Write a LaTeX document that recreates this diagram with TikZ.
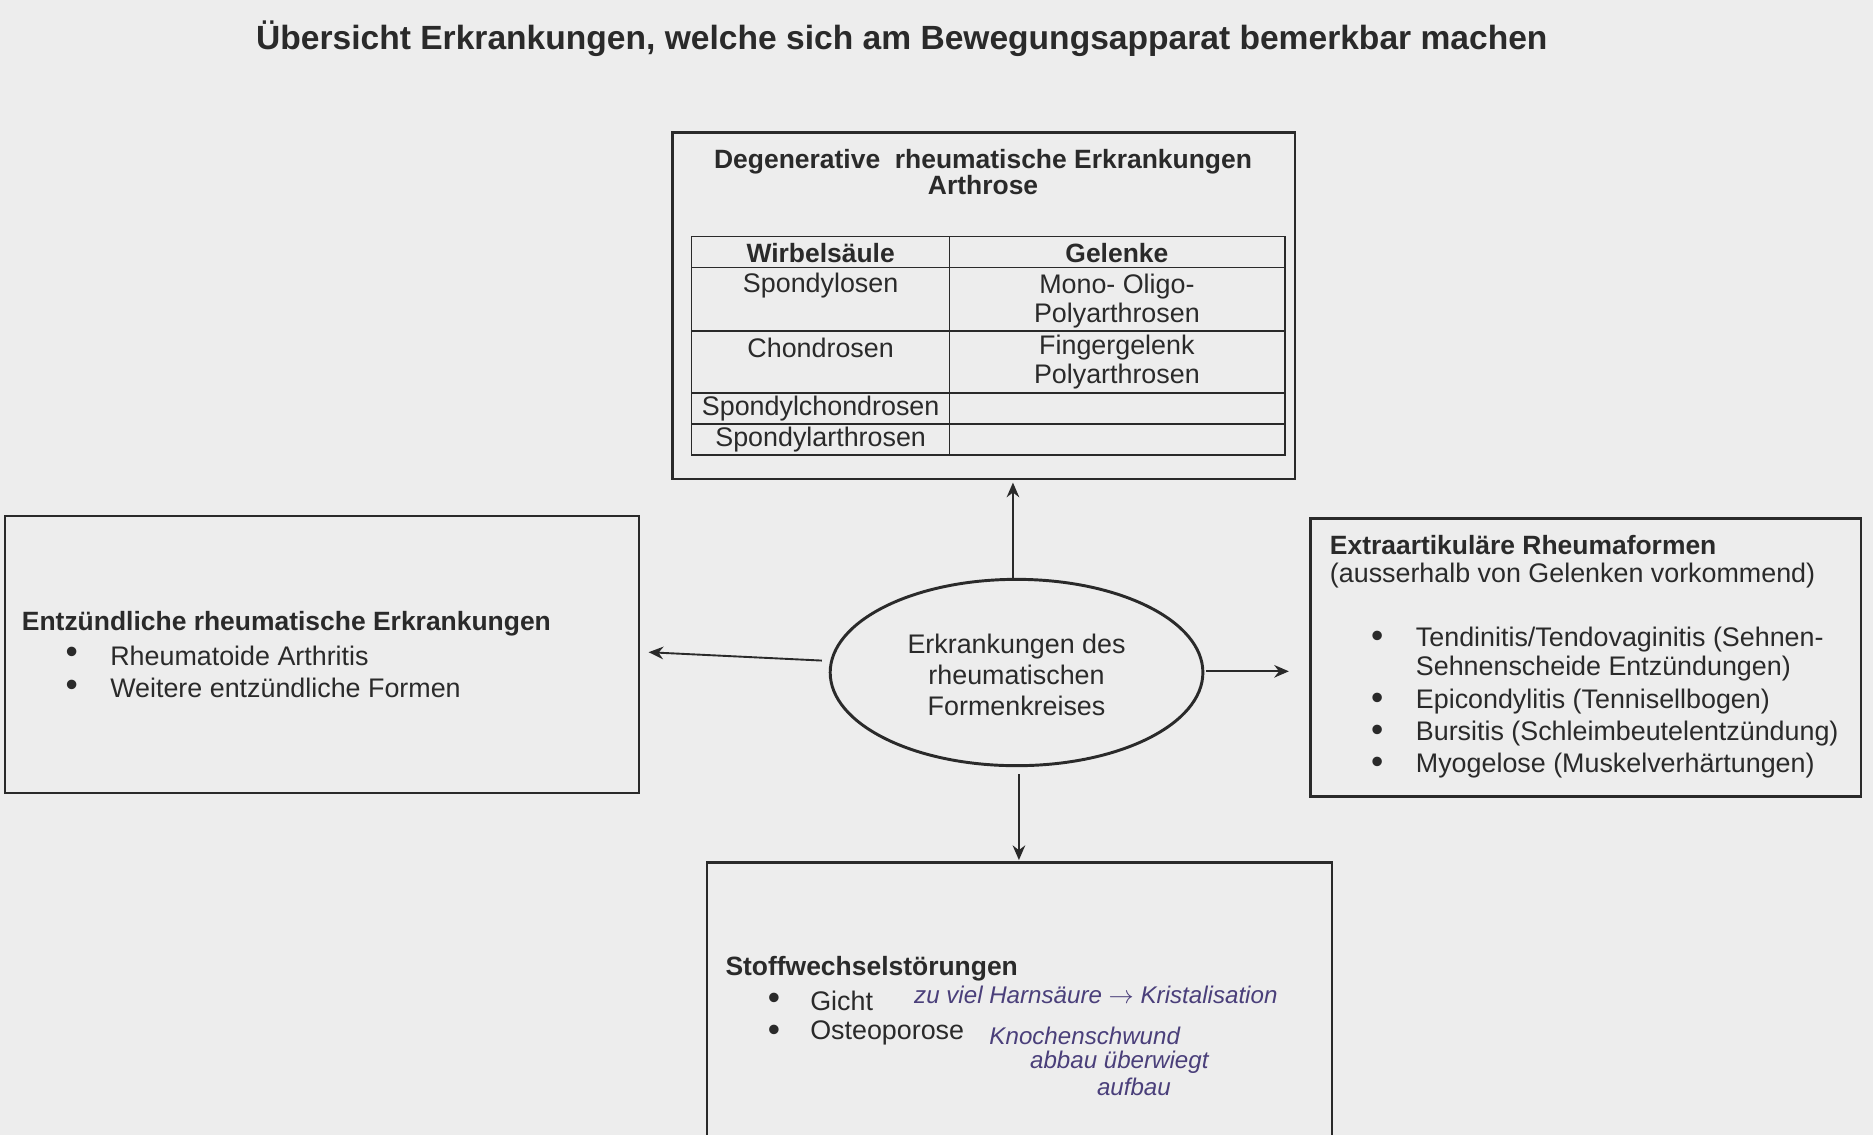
\documentclass[tikz,border=0pt]{standalone}
\usepackage{fontspec}
\setmainfont{Liberation Sans}
\usetikzlibrary{arrows.meta}
\definecolor{paper}{HTML}{EDEDED}
\definecolor{ink}{HTML}{2A2A2A}
\definecolor{pen}{HTML}{4A3F7A}
\begin{document}
\begin{tikzpicture}[x=0.02cm,y=-0.02cm,
  box/.style={draw=ink,line width=1.2pt},
  tl/.style={line width=0.8pt,draw=ink},
  txt/.style={inner sep=0,text=ink,font=\fontsize{12.8}{14}\selectfont},
  btxt/.style={txt,font=\fontsize{12.6}{14}\selectfont\bfseries},
  hand/.style={inner sep=0,text=pen,font=\fontsize{11.5}{13}\itshape,anchor=west},
  arr/.style={-{Stealth[length=7pt,width=6pt]},line width=0.9pt,draw=ink}]
\fill[paper] (0,0) rectangle (1568,950);
\useasboundingbox (0,0) rectangle (1568,950);
\node[btxt,font=\fontsize{16}{18}\selectfont\bfseries] (title) at (755,32) {Übersicht Erkrankungen, welche sich am Bewegungsapparat bemerkbar machen};
% top box
\draw[box] (563,111) rectangle (1084,401);
\node[btxt] (top) at (823,147) {\begin{tabular}{c}Degenerative \ rheumatische Erkrankungen\\[-2pt] Arthrose\end{tabular}};
\draw[tl] (579,198) rectangle (1076,381);
\draw[tl] (795,198) -- (795,381);
\foreach \y in {224,277,329,355} \draw[tl] (579,\y) -- (1076,\y);
\node[btxt] (c1) at (687,212) {Wirbelsäule};
\node[btxt] (c2) at (935,212) {Gelenke};
\node[txt] (r1) at (687,239) {Spondylosen};
\node[txt,align=center] (r1b) at (935,252) {Mono- Oligo-\\Polyarthrosen};
\node[txt] (r2) at (687,291) {Chondrosen};
\node[txt,align=center] (r2b) at (935,303) {Fingergelenk\\Polyarthrosen};
\node[txt] (r3) at (687,342) {Spondylchondrosen};
\node[txt] (r4) at (687,368) {Spondylarthrosen};
% left box
\draw[box] (4,432) rectangle (535,664);
\node[btxt,anchor=west] (lt) at (18,522) {Entzündliche rheumatische Erkrankungen};
\node[txt,scale=1.3] (lb1) at (60,549) {\textbullet};
\node[txt,anchor=west] (l1) at (92,549) {Rheumatoide Arthritis};
\node[txt,scale=1.3] (lb2) at (60,576) {\textbullet};
\node[txt,anchor=west] (l2) at (92,576) {Weitere entzündliche Formen};
% right box
\draw[box] (1097,434) rectangle (1558,667);
\node[btxt,anchor=west] (rt) at (1113,456) {Extraartikuläre Rheumaformen};
\node[txt,anchor=west] (rs) at (1113,482) {(ausserhalb von Gelenken vorkommend)};
\foreach \y in {535,587,614,641} \node[txt,scale=1.3] at (1153,\y) {\textbullet};
\node[txt,anchor=west] (x1) at (1185,535) {Tendinitis/Tendovaginitis (Sehnen-};
\node[txt,anchor=west] (x1b) at (1185,560) {Sehnenscheide Entzündungen)};
\node[txt,anchor=west] (x2) at (1185,587) {Epicondylitis (Tennisellbogen)};
\node[txt,anchor=west] (x3) at (1185,614) {Bursitis (Schleimbeutelentzündung)};
\node[txt,anchor=west] (x4) at (1185,641) {Myogelose (Muskelverhärtungen)};
% ellipse
\draw[box,line width=1.4pt] (851,563) ellipse [x radius=156, y radius=78];
\node[txt,align=center,font=\fontsize{12.8}{15}\selectfont] (et) at (851,565) {Erkrankungen des\\rheumatischen\\Formenkreises};
% bottom box
\draw[box] (592,960) -- (592,722) -- (1115,722) -- (1115,960);
\node[btxt,anchor=west] (bt) at (607,811) {Stoffwechselstörungen};
\node[txt,scale=1.3] at (648,838) {\textbullet};
\node[txt,scale=1.3] at (648,865) {\textbullet};
\node[txt,anchor=west] (b1) at (678,838) {Gicht};
\node[txt,anchor=west] (b2) at (678,865) {Osteoporose};
\node[hand] (h1) at (765,833) {zu viel Harnsäure $\rightarrow$ Kristalisation};
\node[hand] (h2) at (828,867) {Knochenschwund};
\node[hand] (h3) at (862,889) {abbau überwiegt};
\node[hand] (h4) at (918,910) {aufbau};
% arrows
\coordinate (a1s) at (848,485); \coordinate (a1e) at (848,404);
\coordinate (a2s) at (688,553); \coordinate (a2e) at (543,546);
\coordinate (a3s) at (1010,562); \coordinate (a3e) at (1079,562);
\coordinate (a4s) at (853,648); \coordinate (a4e) at (853,720);
\draw[arr] (a1s) -- (a1e);
\draw[arr] (a2s) -- (a2e);
\draw[arr] (a3s) -- (a3e);
\draw[arr] (a4s) -- (a4e);
\end{tikzpicture}
\end{document}
